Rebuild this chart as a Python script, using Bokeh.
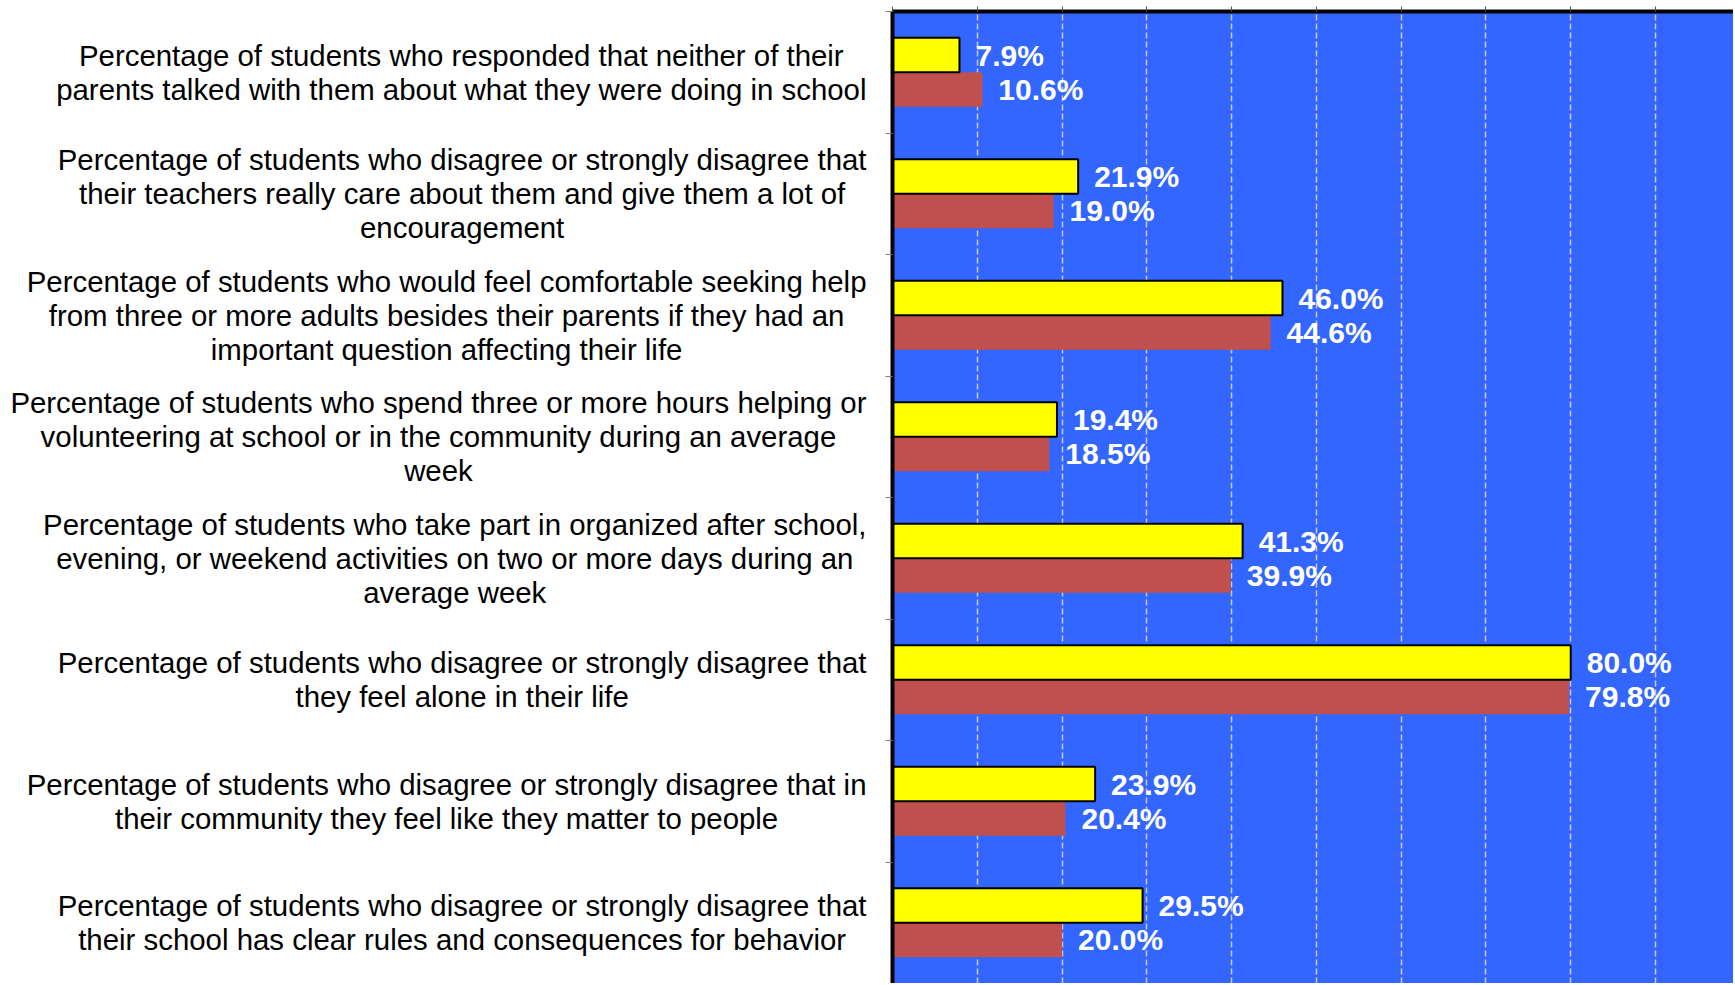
from bokeh.plotting import figure
from bokeh.layouts import row
from bokeh.models import (FactorRange, Range1d, SingleIntervalTicker,
                          FixedTicker, ColumnDataSource, CustomJSTickFormatter)
from bokeh.transform import dodge
from bokeh.core.properties import value
from bokeh.embed import file_html
from bokeh.resources import INLINE

# ---------------- data ----------------
categories = [
    "Percentage of students who responded that neither of their\nparents talked with them about what they were doing in school",
    "Percentage of students who disagree or strongly disagree that\ntheir teachers really care about them and give them a lot of\nencouragement",
    "Percentage of students who would feel comfortable seeking help\nfrom three or more adults besides their parents if they had an\nimportant question affecting their life",
    "Percentage of students who spend three or more hours helping or\nvolunteering at school or in the community during an average\nweek",
    "Percentage of students who take part in organized after school,\nevening, or weekend activities on two or more days during an\naverage week",
    "Percentage of students who disagree or strongly disagree that\nthey feel alone in their life",
    "Percentage of students who disagree or strongly disagree that in\ntheir community they feel like they matter to people",
    "Percentage of students who disagree or strongly disagree that\ntheir school has clear rules and consequences for behavior",
]
series_yellow = [7.9, 21.9, 46.0, 19.4, 41.3, 80.0, 23.9, 29.5]
series_red = [10.6, 19.0, 44.6, 18.5, 39.9, 79.8, 20.4, 20.0]
x_tick_interval = 10

# ---------------- style ----------------
FONT = "Liberation Sans"
H = 983
LEFT_W = 880
RIGHT_W = 853
TOP = 11
BAR_H = 0.283
X_END = 99.2

n = len(categories)
src = ColumnDataSource(dict(
    cat=categories,
    pos=[n - 0.5 - i for i in range(n)],   # category centre on the numeric axis
    a=series_yellow,
    b=series_red,
    la=[f"{v:.1f}%" for v in series_yellow],
    lb=[f"{v:.1f}%" for v in series_red],
))

blank = "return ''"


def style_hidden_labels(axis):
    axis.formatter = CustomJSTickFormatter(code=blank)
    axis.major_label_text_font_size = "1px"
    axis.major_label_standoff = 0
    axis.minor_tick_line_color = None


# ---------- right: bars ----------
p = figure(width=RIGHT_W, height=H, y_range=Range1d(0, n), x_range=Range1d(0, X_END),
           output_backend="svg", toolbar_location=None,
           x_axis_location="above", y_axis_location="left",
           min_border_left=12, min_border_top=TOP, min_border_bottom=0, min_border_right=0)
p.background_fill_color = "#3366FF"
p.border_fill_color = "white"
p.outline_line_color = None

p.xaxis.ticker = SingleIntervalTicker(interval=x_tick_interval)
p.xaxis.axis_line_width = 4
p.xaxis.axis_line_color = "black"
p.xaxis.major_tick_out = 5
p.xaxis.major_tick_in = 0
p.xaxis.major_tick_line_color = "#505050"
style_hidden_labels(p.xaxis[0])

p.yaxis.ticker = FixedTicker(ticks=list(range(n + 1)))
p.yaxis.axis_line_width = 4
p.yaxis.axis_line_color = "black"
p.yaxis.major_tick_out = 7
p.yaxis.major_tick_in = 0
p.yaxis.major_tick_line_color = "#808080"
style_hidden_labels(p.yaxis[0])

p.xgrid.ticker = SingleIntervalTicker(interval=x_tick_interval)
p.xgrid.grid_line_color = "#C8C8C8"
p.xgrid.grid_line_dash = "6 3"
p.xgrid.grid_line_width = 1.5
p.ygrid.visible = False

p.hbar(y=dodge("pos", -BAR_H / 2), left=0, right="b", height=BAR_H,
       fill_color="#C0504D", line_color=None, source=src)
p.hbar(y=dodge("pos", BAR_H / 2), left=0, right="a", height=BAR_H,
       fill_color="#FFFF00", line_color="black", line_width=2, source=src)

label_kw = dict(x_offset=16, text_baseline="middle", text_align="left",
                text_color="white", text_font=value(FONT), text_font_style="bold",
                text_font_size="30px", source=src)
p.text(x="a", y=dodge("pos", BAR_H / 2), text="la", **label_kw)
p.text(x="b", y=dodge("pos", -BAR_H / 2), text="lb", **label_kw)

# ---------- left: category labels ----------
q = figure(width=LEFT_W, height=H, y_range=FactorRange(factors=list(reversed(categories))),
           x_range=Range1d(0, 1),
           output_backend="svg", toolbar_location=None,
           x_axis_location="above", y_axis_location=None,
           min_border_left=0, min_border_top=TOP, min_border_bottom=0, min_border_right=0)
q.background_fill_color = "white"
q.border_fill_color = "white"
q.outline_line_color = None
q.grid.visible = False
q.xaxis.axis_line_width = 4
q.xaxis.axis_line_alpha = 0
q.xaxis.major_tick_out = 5
q.xaxis.major_tick_in = 0
q.xaxis.major_tick_line_alpha = 0
style_hidden_labels(q.xaxis[0])

q.text(x=1, y="cat", text="cat", source=src, x_offset=-14,
       anchor=value("center_right"), text_align="center", text_baseline="middle",
       text_font=value(FONT), text_font_size="29.4px", text_line_height=1.03,
       text_color="black")

layout = row(q, p)
open("out.html", "w").write(file_html(layout, INLINE))
